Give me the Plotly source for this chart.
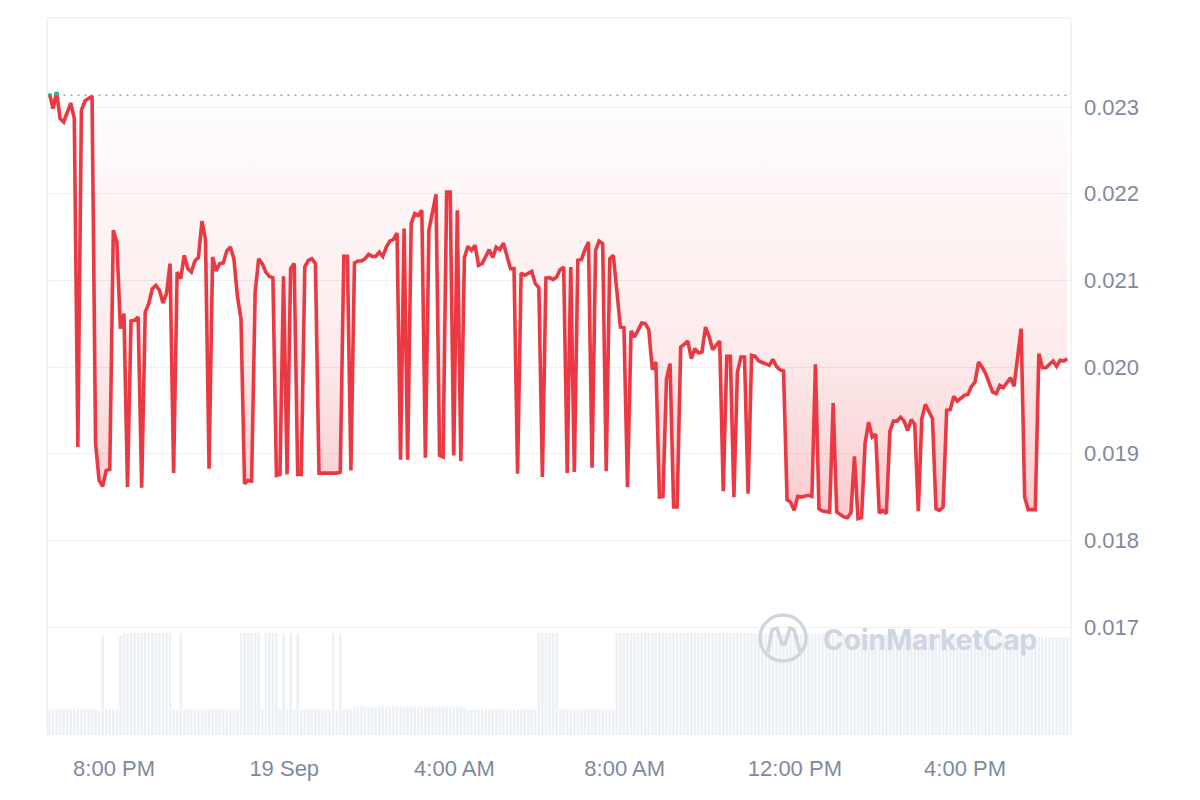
import pandas as pd
import plotly.graph_objects as go

# ---------------- data ----------------
start_date = "2023-09-18"
open_price = 0.023135

times = [
    "18:29", "18:34", "18:39", "18:44", "18:49", "18:59",
    "19:04", "19:09", "19:14", "19:19", "19:24", "19:29", "19:34", "19:39", "19:44", "19:49", "19:54", "19:59",
    "20:04", "20:09", "20:14", "20:19", "20:24", "20:29", "20:34", "20:39", "20:44", "20:49", "20:54", "20:59",
    "21:04", "21:09", "21:14", "21:19", "21:24", "21:29", "21:34", "21:39", "21:44", "21:49", "21:54", "21:59",
    "22:04", "22:09", "22:14", "22:19", "22:24", "22:29", "22:34", "22:39", "22:44", "22:49", "22:54", "22:59",
    "23:04", "23:09", "23:14", "23:19", "23:24", "23:29", "23:34", "23:39", "23:44", "23:49", "23:54", "23:59",
    "00:04", "00:09", "00:14", "00:19", "00:24", "00:29", "00:34", "00:39", "00:44", "00:49",
    "01:14", "01:19", "01:24", "01:29", "01:34", "01:39", "01:44", "01:49", "01:54", "01:59",
    "02:04", "02:09", "02:14", "02:19", "02:24", "02:29", "02:34", "02:39", "02:44", "02:49", "02:54", "02:59",
    "03:04", "03:09", "03:14", "03:19", "03:24", "03:34", "03:39", "03:44", "03:49", "03:54", "03:59",
    "04:04", "04:09", "04:14", "04:19", "04:24", "04:29", "04:34", "04:39", "04:49", "04:54", "04:59",
    "05:04", "05:09", "05:19", "05:24", "05:29", "05:34", "05:39", "05:49", "05:54", "05:59",
    "06:04", "06:09", "06:14", "06:19", "06:24", "06:29", "06:34", "06:39", "06:44", "06:49", "06:54", "06:59",
    "07:04", "07:09", "07:14", "07:19", "07:24", "07:29", "07:34", "07:39", "07:44", "07:54", "07:59",
    "08:04", "08:09", "08:14", "08:24", "08:29", "08:34", "08:39", "08:44", "08:49", "08:54", "08:59",
    "09:04", "09:09", "09:14", "09:19", "09:24", "09:29", "09:34", "09:39", "09:44", "09:49", "09:54", "09:59",
    "10:04", "10:14", "10:19", "10:24", "10:29", "10:34", "10:39", "10:44", "10:49", "10:54", "10:59",
    "11:04", "11:09", "11:19", "11:24", "11:29", "11:34", "11:39", "11:44", "11:49", "11:54", "11:59",
    "12:04", "12:09", "12:19", "12:24", "12:29", "12:34", "12:39", "12:49", "12:54", "12:59",
    "13:04", "13:09", "13:14", "13:19", "13:24", "13:29", "13:34", "13:39", "13:44", "13:49", "13:54", "13:59",
    "14:04", "14:09", "14:14", "14:19", "14:24", "14:29", "14:34", "14:39", "14:44", "14:49", "14:54", "14:59",
    "15:04", "15:09", "15:14", "15:19", "15:24", "15:29", "15:34", "15:39", "15:44", "15:49", "15:54", "15:59",
    "16:04", "16:09", "16:14", "16:19", "16:24", "16:29", "16:34", "16:39", "16:44", "16:49", "16:54", "16:59",
    "17:04", "17:09", "17:19", "17:24", "17:29", "17:39", "17:44", "17:49", "17:54",
    "18:04", "18:09", "18:14", "18:19", "18:24",
]

prices = [
    0.023155, 0.022982, 0.023173, 0.022866, 0.022827, 0.023046,
    0.022866, 0.019076, 0.022962, 0.023069, 0.023097, 0.023123, 0.019115, 0.018692, 0.018622, 0.018807, 0.018819, 0.021577,
    0.021442, 0.020443, 0.020616, 0.018614, 0.020530, 0.020538, 0.020576, 0.018607, 0.020634, 0.020731, 0.020904, 0.020942,
    0.020885, 0.020738, 0.020846, 0.021193, 0.018776, 0.021096, 0.021020, 0.021288, 0.021135, 0.021096, 0.021223, 0.021262,
    0.021684, 0.021470, 0.018827, 0.021269, 0.021107, 0.021193, 0.021200, 0.021338, 0.021384, 0.021250, 0.020815, 0.020558,
    0.018654, 0.018692, 0.018684, 0.020865, 0.021250, 0.021193, 0.021096, 0.021046, 0.021031, 0.018749, 0.018761, 0.021046,
    0.018761, 0.021135, 0.021193, 0.018761, 0.018761, 0.021153, 0.021231, 0.021250, 0.021193, 0.018776,
    0.018776, 0.018788, 0.021277, 0.021277, 0.018807, 0.021200, 0.021223, 0.021223, 0.021250, 0.021300,
    0.021277, 0.021277, 0.021327, 0.021277, 0.021384, 0.021453, 0.021473, 0.021546, 0.018931, 0.021597, 0.018931, 0.021654,
    0.021770, 0.021750, 0.021808, 0.018954, 0.021577, 0.021992, 0.018980, 0.018961, 0.022019, 0.022019, 0.018980,
    0.021808, 0.018914, 0.021262, 0.021392, 0.021346, 0.021404, 0.021173, 0.021193, 0.021354, 0.021262, 0.021384,
    0.021354, 0.021430, 0.021135, 0.021135, 0.018769, 0.021084, 0.021058, 0.021104, 0.020962, 0.020916,
    0.018730, 0.021026, 0.021031, 0.021008, 0.021038, 0.021123, 0.021153, 0.018776, 0.021153, 0.018788, 0.021231, 0.021239,
    0.021354, 0.021442, 0.018838, 0.021346, 0.021453, 0.021423, 0.018799, 0.021250, 0.021288, 0.020461, 0.020454,
    0.018614, 0.020415, 0.020346, 0.020507, 0.020500, 0.020431, 0.019969, 0.020057, 0.018499, 0.018507, 0.019865,
    0.020039, 0.018384, 0.018384, 0.020230, 0.020261, 0.020299, 0.020096, 0.020212, 0.020161, 0.020172, 0.020461, 0.020354,
    0.020200, 0.020299, 0.018568, 0.020123, 0.020123, 0.018499, 0.019942, 0.020115, 0.020115, 0.018538, 0.020134,
    0.020123, 0.020069, 0.020039, 0.020019, 0.020088, 0.020007, 0.019969, 0.019953, 0.018469, 0.018441, 0.018346,
    0.018507, 0.018499, 0.018519, 0.018507, 0.020030, 0.018365, 0.018337, 0.018326, 0.019584, 0.018326,
    0.018299, 0.018270, 0.018261, 0.018314, 0.018969, 0.018250, 0.018261, 0.019122, 0.019365, 0.019191, 0.019223, 0.018314,
    0.018346, 0.018307, 0.019261, 0.019376, 0.019376, 0.019422, 0.019376, 0.019269, 0.019392, 0.019338, 0.018337, 0.019404,
    0.019569, 0.019492, 0.019404, 0.018365, 0.018346, 0.018384, 0.019500, 0.019508, 0.019661, 0.019607, 0.019635, 0.019673,
    0.019684, 0.019777, 0.019826, 0.020057, 0.019999, 0.019923, 0.019815, 0.019711, 0.019692, 0.019788, 0.019762, 0.019826,
    0.019877, 0.019777, 0.020443, 0.018499, 0.018354, 0.018354, 0.020154, 0.019992, 0.019992,
    0.020069, 0.020007, 0.020077, 0.020069, 0.020096,
]

# 5-minute volume bars starting 18:29 (relative units, one row per hour)
volume_start = "2023-09-18 18:29"
volume = [
    25, 25, 25, 25, 25, 25, 25, 25, 25, 25, 25, 25,
    25, 25, 25, 97, 25, 25, 25, 25, 97, 100, 100, 100,
    100, 100, 100, 100, 100, 100, 100, 100, 100, 100, 100, 25,
    25, 100, 25, 25, 25, 25, 25, 25, 25, 25, 25, 25,
    25, 25, 25, 25, 25, 25, 100, 100, 100, 100, 100, 100,
    25, 100, 100, 100, 100, 25, 100, 25, 100, 25, 100, 25,
    25, 25, 25, 25, 25, 25, 25, 25, 100, 25, 100, 25,
    25, 25, 28, 28, 28, 28, 28, 28, 28, 28, 28, 28,
    28, 28, 28, 28, 28, 28, 28, 28, 28, 28, 28, 28,
    28, 28, 28, 28, 28, 28, 28, 28, 28, 28, 25, 25,
    25, 25, 25, 25, 25, 25, 25, 25, 25, 25, 25, 25,
    25, 25, 25, 25, 25, 25, 100, 100, 100, 100, 100, 100,
    25, 25, 25, 25, 25, 25, 25, 25, 25, 25, 25, 25,
    25, 25, 25, 25, 100, 100, 100, 100, 100, 100, 100, 100,
    100, 100, 100, 100, 100, 100, 100, 100, 100, 100, 100, 100,
    100, 100, 100, 100, 100, 100, 100, 100, 100, 100, 100, 100,
    100, 100, 100, 100, 100, 100, 100, 100, 99, 99, 99, 99,
    99, 99, 99, 99, 99, 99, 99, 99, 99, 99, 99, 99,
    99, 99, 99, 99, 99, 99, 99, 99, 99, 99, 99, 99,
    99, 99, 98, 98, 98, 98, 98, 98, 98, 98, 98, 98,
    98, 98, 98, 98, 98, 98, 98, 98, 98, 98, 98, 98,
    98, 98, 98, 98, 97, 97, 97, 97, 97, 97, 97, 97,
    97, 97, 97, 97, 97, 97, 97, 97, 97, 97, 97, 97,
    96, 96, 96, 96, 96, 96, 96, 96, 96, 96, 96, 96,
]

x_tick_vals = ["2023-09-18 20:00", "2023-09-19 00:00", "2023-09-19 04:00",
               "2023-09-19 08:00", "2023-09-19 12:00", "2023-09-19 16:00"]
x_tick_text = ["8:00 PM", "19 Sep", "4:00 AM", "8:00 AM", "12:00 PM", "4:00 PM"]
y_tick_vals = [0.017, 0.018, 0.019, 0.020, 0.021, 0.022, 0.023]
y_tick_text = ["0.017", "0.018", "0.019", "0.020", "0.021", "0.022", "0.023"]
x_range = ["2023-09-18 18:25:30", "2023-09-19 18:29:20"]
y_range = [0.015754, 0.024027]

assert len(times) == len(prices)

# ---------------- build timestamps ----------------
stamps = []
day = pd.Timestamp(start_date)
prev = None
for t in times:
    h, m = map(int, t.split(":"))
    if prev is not None and (h, m) < prev:
        day += pd.Timedelta(days=1)
    prev = (h, m)
    stamps.append(day + pd.Timedelta(hours=h, minutes=m))

vol_times = pd.date_range(volume_start, periods=len(volume), freq="5min")

# segments above the opening price are drawn green
gx, gy = [], []
for i in range(len(prices) - 1):
    p0, p1 = prices[i], prices[i + 1]
    a0, a1 = p0 > open_price, p1 > open_price
    if not (a0 or a1):
        continue
    t0, t1 = stamps[i], stamps[i + 1]
    if a0 and a1:
        seg = [(t0, p0), (t1, p1)]
    else:
        f = (open_price - p0) / (p1 - p0)
        tc = t0 + (t1 - t0) * f
        seg = [(t0, p0), (tc, open_price)] if a0 else [(tc, open_price), (t1, p1)]
    gx += [s[0] for s in seg] + [None]
    gy += [s[1] for s in seg] + [None]

RED = "#ea3943"
GREEN = "#16c784"
TXT = "#808a9d"
GRID = "#eceff3"

fig = go.Figure()

fig.add_trace(go.Bar(
    x=vol_times, y=volume, yaxis="y2",
    marker=dict(color="#edf0f4", line=dict(width=0)),
    width=300000 * 0.72, hoverinfo="skip",
))

fig.add_trace(go.Scatter(
    x=[stamps[0], stamps[-1]], y=[open_price, open_price],
    mode="lines", line=dict(color="#9aa3b2", width=1.6, dash="2px,5px"),
    hoverinfo="skip",
))

fig.add_trace(go.Scatter(
    x=stamps, y=prices, mode="lines",
    line=dict(color=RED, width=3.6),
    fill="tonexty",
    fillgradient=dict(
        type="vertical", start=0.0178, stop=open_price,
        colorscale=[[0.0, "rgba(234,57,67,0.30)"],
                    [0.45, "rgba(234,57,67,0.10)"],
                    [1.0, "rgba(234,57,67,0.01)"]],
    ),
))

fig.add_trace(go.Scatter(
    x=gx, y=gy, mode="lines", line=dict(color=GREEN, width=3.6),
    hoverinfo="skip", connectgaps=False,
))

font_ticks = dict(family="Liberation Sans, Arial, sans-serif", size=22, color=TXT)

# page body has an 8px margin: figure occupies 8..1192 x 8..792
fig.update_layout(
    width=1184, height=784,
    margin=dict(l=39, r=121, t=10, b=57),
    paper_bgcolor="white", plot_bgcolor="white",
    showlegend=False,
    xaxis=dict(
        type="date", range=x_range,
        tickmode="array", tickvals=x_tick_vals, ticktext=x_tick_text,
        showgrid=False, zeroline=False, showline=False,
        ticks="", tickfont=font_ticks, ticklabelstandoff=18,
    ),
    yaxis=dict(
        range=y_range, side="right",
        tickmode="array", tickvals=y_tick_vals, ticktext=y_tick_text,
        showgrid=True, gridcolor=GRID, gridwidth=1.2,
        zeroline=False, showline=False, ticks="",
        tickfont=font_ticks, ticklabelstandoff=12,
    ),
    yaxis2=dict(overlaying="y", range=[0, 703], visible=False),
)

# pixel (window) -> paper helpers; plot area spans x 47..1071, y 18..735
def px(x):
    return (x - 47) / 1024

def py(y):
    return (735 - y) / 717

frame = dict(color=GRID, width=1.5)
fig.add_shape(type="line", xref="paper", yref="paper", x0=0, x1=1, y0=1, y1=1, line=frame)
fig.add_shape(type="line", xref="paper", yref="paper", x0=0, x1=0, y0=0, y1=1, line=frame)
fig.add_shape(type="line", xref="paper", yref="paper", x0=1, x1=1, y0=0, y1=1, line=frame)

# watermark
WM = "#cfd6e1"
fig.add_shape(type="circle", xref="paper", yref="paper",
              x0=px(760), x1=px(806), y0=py(661), y1=py(615),
              line=dict(color=WM, width=3.5))
pts = [(768, 652), (772, 630), (777, 628), (782, 644), (785, 644), (790, 628), (794, 630), (800, 652)]
path = "M {} {}".format(px(pts[0][0]), py(pts[0][1]))
for (xx, yy) in pts[1:]:
    path += " L {} {}".format(px(xx), py(yy))
fig.add_shape(type="path", xref="paper", yref="paper", path=path,
              line=dict(color=WM, width=3.5))
fig.add_annotation(text="<b>CoinMarketCap</b>", xref="paper", yref="paper",
                   x=px(821), y=py(640), xanchor="left", yanchor="middle",
                   showarrow=False,
                   font=dict(family="Inter, Liberation Sans, sans-serif", size=28, color=WM))

fig.write_html("out.html")
